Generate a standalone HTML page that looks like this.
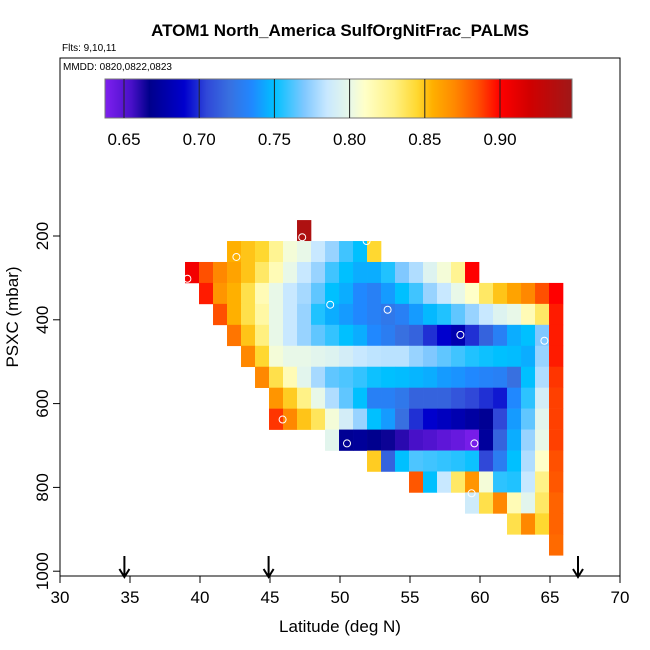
<!DOCTYPE html>
<html><head><meta charset="utf-8"><style>
html,body{margin:0;padding:0;background:#fff;}
svg{display:block;font-family:"Liberation Sans",Arial,sans-serif;}
</style></head><body>
<svg id="chart" width="650" height="650" viewBox="0 0 650 650" xmlns="http://www.w3.org/2000/svg">
<text x="340" y="36" text-anchor="middle" font-size="17" font-weight="bold">ATOM1 North_America SulfOrgNitFrac_PALMS</text>
<text x="62" y="51" font-size="10">Flts: 9,10,11</text>
<rect x="60" y="58" width="560" height="518" fill="none" stroke="#000" stroke-width="1"/>
<text x="63" y="70" font-size="10">MMDD: 0820,0822,0823</text>
<g id="cells"></g>
<g id="points"></g>
<g id="colorbar"></g>
<g id="axes"></g>
<g id="arrows"></g>
<text x="340" y="632" text-anchor="middle" font-size="17">Latitude (deg N)</text>
<text transform="translate(18,317) rotate(-90)" text-anchor="middle" font-size="17">PSXC (mbar)</text>
</svg>
<script>
const xTicks=[30,35,40,45,50,55,60,65,70];
const yTicks=[200,400,600,800,1000];
const cbTicks=[0.65,0.70,0.75,0.80,0.85,0.90];
const cellLatStart=38.93;
const cellLatWidth=1;
const rowPressures=[187,237,287,337,387,437,487,537,587,637,687,737,787,837,887,937];
const rowStartCol=[8,3,0,1,2,3,4,5,6,6,10,13,16,20,23,26];
const rowValues=[
[0.94],
[0.855,0.85,0.845,0.825,0.805,0.80,0.785,0.775,0.76,0.75,0.845],
[0.905,0.885,0.87,0.86,0.85,0.835,0.815,0.80,0.785,0.775,0.76,0.75,0.745,0.745,0.755,0.77,0.78,0.795,0.805,0.825,0.90],
[0.895,0.865,0.855,0.84,0.815,0.80,0.785,0.778,0.765,0.75,0.745,0.735,0.73,0.74,0.75,0.76,0.775,0.785,0.80,0.81,0.835,0.85,0.86,0.87,0.885,0.90],
[0.885,0.855,0.84,0.82,0.80,0.785,0.775,0.755,0.745,0.74,0.735,0.73,0.725,0.73,0.74,0.748,0.755,0.765,0.775,0.785,0.795,0.80,0.815,0.835,0.895],
[0.875,0.85,0.83,0.80,0.785,0.775,0.765,0.758,0.75,0.745,0.735,0.728,0.72,0.715,0.70,0.69,0.68,0.70,0.715,0.73,0.745,0.75,0.77,0.895],
[0.87,0.845,0.805,0.80,0.80,0.797,0.795,0.79,0.785,0.783,0.782,0.782,0.775,0.77,0.765,0.76,0.755,0.752,0.75,0.749,0.745,0.775,0.895],
[0.87,0.84,0.815,0.797,0.778,0.765,0.762,0.758,0.752,0.75,0.749,0.747,0.745,0.74,0.738,0.735,0.732,0.73,0.72,0.75,0.78,0.89],
[0.865,0.848,0.828,0.80,0.78,0.765,0.75,0.73,0.73,0.725,0.715,0.715,0.715,0.71,0.705,0.70,0.695,0.735,0.757,0.79,0.888],
[0.89,0.87,0.85,0.837,0.805,0.79,0.775,0.75,0.74,0.72,0.70,0.69,0.685,0.68,0.675,0.67,0.705,0.74,0.765,0.797,0.888],
[0.797,0.67,0.672,0.668,0.665,0.66,0.655,0.652,0.648,0.645,0.64,0.673,0.715,0.745,0.775,0.80,0.888],
[0.848,0.715,0.75,0.762,0.76,0.758,0.756,0.752,0.705,0.728,0.75,0.78,0.81,0.885],
[0.883,0.75,0.785,0.835,0.865,0.805,0.757,0.755,0.785,0.828,0.883],
[0.788,0.84,0.87,0.815,0.797,0.835,0.88],
[0.84,0.87,0.845,0.88],
[0.878]
];
const pointLats=[47.3,42.6,39.1,51.9,49.3,53.4,58.6,64.6,66.4,45.9,50.5,59.6,59.4,65.0];
const pointPress=[203,250,302,212,364,376,436,450,359,638,695,695,814,973];
const arrowLats=[34.6,44.9,67.0];

const NS='http://www.w3.org/2000/svg';
const X=lat=>60+(lat-30)*14;
const Y=p=>236+(p-200)*0.419;
const CB=v=>124+(v-0.65)*1504;
const stops=[[0.637,[128,32,240]],[0.655,[72,16,200]],[0.667,[0,0,139]],[0.69,[0,0,205]],[0.705,[48,72,216]],[0.72,[56,112,224]],[0.735,[32,136,255]],[0.75,[0,192,255]],[0.77,[128,200,255]],[0.785,[200,232,255]],[0.80,[232,248,232]],[0.81,[255,255,200]],[0.83,[255,240,128]],[0.845,[255,216,48]],[0.855,[255,176,0]],[0.87,[255,136,0]],[0.885,[255,80,0]],[0.90,[255,0,0]],[0.92,[208,0,0]],[0.948,[160,24,24]]];
function col(v){
  if(v<=stops[0][0])return 'rgb('+stops[0][1]+')';
  for(let i=1;i<stops.length;i++){if(v<=stops[i][0]){const a=stops[i-1],b=stops[i],t=(v-a[0])/(b[0]-a[0]);
    return 'rgb('+a[1].map((c,j)=>Math.round(c+(b[1][j]-c)*t)).join(',')+')';}}
  return 'rgb('+stops[stops.length-1][1]+')';
}
function mk(tag,attrs,parent){const e=document.createElementNS(NS,tag);for(const k in attrs)e.setAttribute(k,attrs[k]);parent.appendChild(e);return e;}
const cells=document.getElementById('cells');
rowValues.forEach((row,r)=>{row.forEach((v,i)=>{
  const lat=cellLatStart+(rowStartCol[r]+i)*cellLatWidth;
  const y0=Y(rowPressures[r]-25),y1=Y(rowPressures[r]+25);
  const e=mk('rect',{x:X(lat),y:y0,width:X(lat+cellLatWidth)-X(lat)+0.3,height:y1-y0+0.3,fill:col(v)},cells);
  
  
});});
const pts=document.getElementById('points');
pointLats.forEach((lat,i)=>{
  const e=mk('circle',{cx:X(lat),cy:Y(pointPress[i]),r:3.5,fill:'none',stroke:'#fff','stroke-width':1},pts);
  
  
});
const cb=document.getElementById('colorbar');
for(let x=105;x<572;x++){
  const e=mk('rect',{x:x,y:79,width:1.2,height:39,fill:col(0.65+(x+0.5-124)/1504)},cb);
  
  
}
mk('rect',{x:105,y:79,width:467,height:39,fill:'none',stroke:'#777','stroke-width':1},cb);
cbTicks.forEach(v=>{
  const l=mk('line',{x1:CB(v),x2:CB(v),y1:79,y2:118,stroke:'#222','stroke-width':1},cb);
  
  
  const t=mk('text',{x:CB(v),y:145,'text-anchor':'middle','font-size':17},cb);t.textContent=v.toFixed(2);
  
  
});
const ax=document.getElementById('axes');
xTicks.forEach(v=>{
  const l=mk('line',{x1:X(v),x2:X(v),y1:576,y2:583,stroke:'#000'},ax);
  
  
  const t=mk('text',{x:X(v),y:603,'text-anchor':'middle','font-size':17},ax);t.textContent=v;
  
  
});
yTicks.forEach(v=>{
  const l=mk('line',{x1:53,x2:60,y1:Y(v),y2:Y(v),stroke:'#000'},ax);
  
  
  const t=mk('text',{transform:'translate(48,'+Y(v)+') rotate(-90)','text-anchor':'middle','font-size':17},ax);t.textContent=v;
  
  
});
const ar=document.getElementById('arrows');
arrowLats.forEach(lat=>{
  const x=X(lat);
  const e=mk('path',{d:'M'+x+' 556 L'+x+' 577 M'+(x-5)+' 569 L'+x+' 577 L'+(x+5)+' 569',stroke:'#000','stroke-width':2,fill:'none'},ar);
  
  
});
</script>
</body></html>
